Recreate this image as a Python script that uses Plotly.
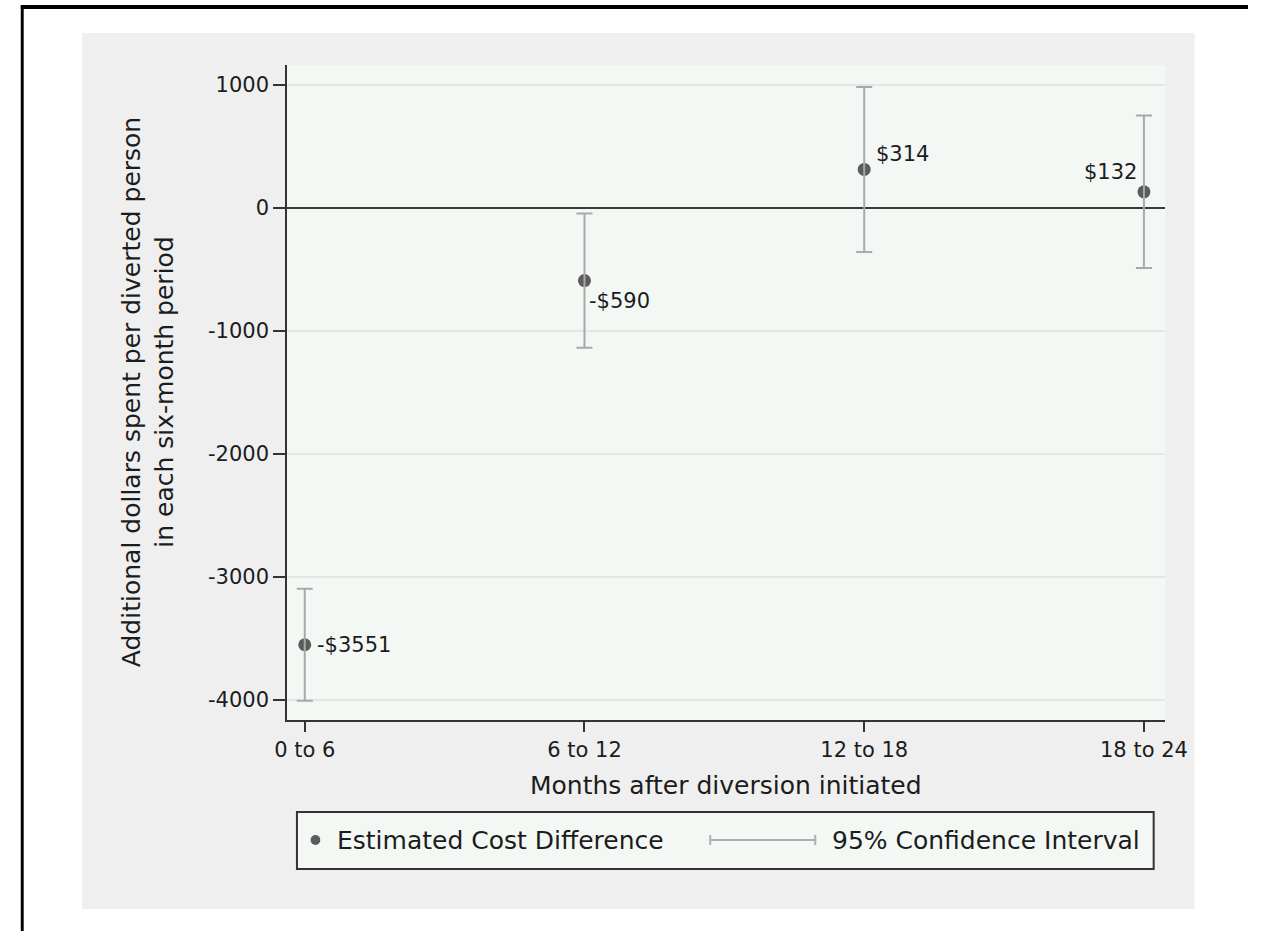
import plotly.graph_objects as go

W, H = 1270, 931

# Six-month periods and estimated cost differences (dollars per diverted person)
periods = ["0 to 6", "6 to 12", "12 to 18", "18 to 24"]
estimate = [-3551, -590, 314, 132]
ci_low = [-4006, -1136, -357, -488]
ci_high = [-3096, -44, 985, 752]
y_ticks = [-4000, -3000, -2000, -1000, 0, 1000]

# Value-label placement around each marker: (xanchor, xshift, yshift)
label_style = [("left", 10, 0), ("left", 3, -20), ("left", 10, 15), ("right", -5, 20)]

FONT = "DejaVu Sans"
TXT = "#1c1c1c"
PLOT_BG = "#f4f8f5"

# plot-region edges in pixels
PL, PR, PT, PB = 282, 1185, 65, 720


def px(x):
    return x / W


def py(y):
    return 1 - y / H


def money(v):
    return f"-${-v}" if v < 0 else f"${v}"


xs = list(range(len(periods)))

fig = go.Figure()

# Point estimates
fig.add_trace(go.Scatter(
    x=xs, y=estimate, mode="markers",
    marker=dict(size=13, color="#5c5c5c", line=dict(width=0)),
    showlegend=False, hoverinfo="skip",
))

# Confidence intervals, drawn over the markers
fig.add_trace(go.Scatter(
    x=xs, y=estimate, mode="markers",
    marker=dict(size=1, color="rgba(0,0,0,0)"),
    error_y=dict(
        type="data", symmetric=False,
        array=[h - e for h, e in zip(ci_high, estimate)],
        arrayminus=[e - l for e, l in zip(estimate, ci_low)],
        color="#a9a9a9", thickness=2, width=8,
    ),
    showlegend=False, hoverinfo="skip",
))

annotations = []
for i, v in enumerate(estimate):
    anchor, dx, dy = label_style[i]
    annotations.append(dict(
        x=xs[i], y=v, xref="x", yref="y", text=money(v), showarrow=False,
        xanchor=anchor, yanchor="middle", xshift=dx, yshift=dy,
        font=dict(family=FONT, size=21, color=TXT),
    ))

# Axis titles
annotations.append(dict(
    x=px(733.5), y=py(785), xref="paper", yref="paper",
    text="Months after diversion initiated", showarrow=False,
    xanchor="center", yanchor="middle",
    font=dict(family=FONT, size=25, color=TXT),
))
annotations.append(dict(
    x=px(139), y=py(392), xref="paper", yref="paper",
    text="Additional dollars spent per diverted person<br>in each six-month period",
    showarrow=False, textangle=-90, xanchor="center", yanchor="middle",
    font=dict(family=FONT, size=25, color=TXT),
))

# Legend entries
annotations.append(dict(
    x=px(331), y=py(840), xref="paper", yref="paper",
    text="Estimated Cost Difference", showarrow=False,
    xanchor="left", yanchor="middle",
    font=dict(family=FONT, size=25, color=TXT),
))
annotations.append(dict(
    x=px(840), y=py(840), xref="paper", yref="paper",
    text="95% Confidence Interval", showarrow=False,
    xanchor="left", yanchor="middle",
    font=dict(family=FONT, size=25, color=TXT),
))

shapes = [
    # graph region
    dict(type="rect", xref="paper", yref="paper", x0=px(71), x1=px(1215),
         y0=py(33), y1=py(909), fillcolor="#efefef", line=dict(width=0), layer="below"),
    # plot region
    dict(type="rect", xref="paper", yref="paper", x0=px(PL), x1=px(PR),
         y0=py(PT), y1=py(PB), fillcolor=PLOT_BG, line=dict(width=0), layer="below"),
    # outer frame (top and left)
    dict(type="rect", xref="paper", yref="paper", x0=px(8), x1=px(1270),
         y0=py(5), y1=py(9), fillcolor="black", line=dict(width=0)),
    dict(type="rect", xref="paper", yref="paper", x0=px(8), x1=px(11),
         y0=py(5), y1=py(931), fillcolor="black", line=dict(width=0)),
    # legend box
    dict(type="rect", xref="paper", yref="paper", x0=px(292), x1=px(1173),
         y0=py(812), y1=py(869), fillcolor=PLOT_BG, line=dict(color="#333333", width=2)),
    # legend marker
    dict(type="circle", xref="paper", yref="paper", x0=px(306), x1=px(316),
         y0=py(835), y1=py(845), fillcolor="#5c5c5c", line=dict(width=0)),
    # legend interval symbol
    dict(type="line", xref="paper", yref="paper", x0=px(717), x1=px(825),
         y0=py(840), y1=py(840), line=dict(color="#b0b0b0", width=2)),
    dict(type="line", xref="paper", yref="paper", x0=px(717), x1=px(717),
         y0=py(835), y1=py(845), line=dict(color="#b0b0b0", width=2)),
    dict(type="line", xref="paper", yref="paper", x0=px(825), x1=px(825),
         y0=py(835), y1=py(845), line=dict(color="#b0b0b0", width=2)),
]

fig.update_layout(
    width=W, height=H, autosize=False,
    margin=dict(l=0, r=0, t=0, b=0),
    paper_bgcolor="white", plot_bgcolor="rgba(0,0,0,0)",
    showlegend=False,
    font=dict(family=FONT, color=TXT),
    xaxis=dict(
        domain=[px(PL), px(PR)], range=[-0.0626, 3.0765],
        tickmode="array", tickvals=xs, ticktext=periods,
        ticks="outside", ticklen=10, tickwidth=2, tickcolor="#333333",
        showline=True, linecolor="#333333", linewidth=2,
        showgrid=False, zeroline=False,
        tickfont=dict(family=FONT, size=21, color=TXT),
    ),
    yaxis=dict(
        domain=[py(PB), py(PT)], range=[-4163, 1163],
        tickmode="array", tickvals=y_ticks, ticktext=[str(t) for t in y_ticks],
        ticks="outside", ticklen=12, tickwidth=2, tickcolor="#333333",
        showline=True, linecolor="#333333", linewidth=2,
        showgrid=True, gridcolor="#e4e6e4", gridwidth=2,
        zeroline=True, zerolinecolor="#3a3a3a", zerolinewidth=2,
        tickfont=dict(family=FONT, size=21, color=TXT),
    ),
    annotations=annotations,
    shapes=shapes,
)

fig.write_html("out.html")
